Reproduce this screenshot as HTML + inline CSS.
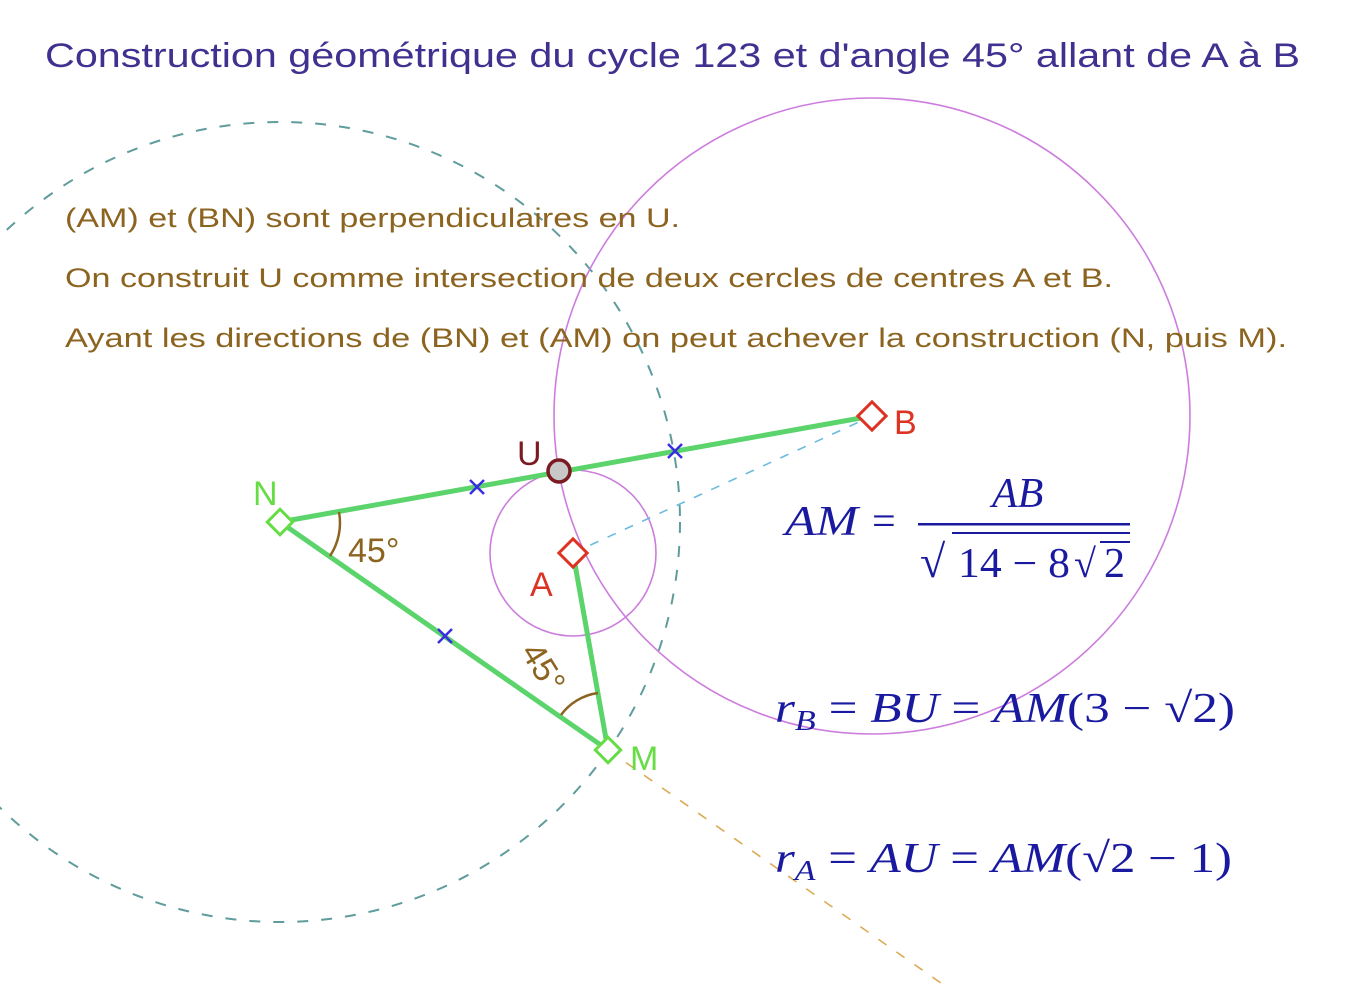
<!DOCTYPE html>
<html><head><meta charset="utf-8"><style>body{margin:0;background:#fff}svg{display:block}</style></head><body>
<svg width="1372" height="988" viewBox="0 0 1372 988" xmlns="http://www.w3.org/2000/svg">
<circle cx="280" cy="522" r="400" fill="none" stroke="#5f9c9c" stroke-width="2" stroke-dasharray="11 13"/>
<circle cx="872" cy="416" r="318" fill="none" stroke="#cc7ddd" stroke-width="1.6"/>
<circle cx="573" cy="553" r="83" fill="none" stroke="#cc7ddd" stroke-width="1.6"/>
<line x1="573" y1="553" x2="872" y2="416" stroke="#6cbbdd" stroke-width="1.6" stroke-dasharray="9 10"/>
<line x1="608" y1="750" x2="948" y2="988" stroke="#ddaa55" stroke-width="1.6" stroke-dasharray="10 12"/>
<g font-family="Liberation Sans, sans-serif">
<text x="45" y="67" font-size="34" fill="#40308f" textLength="1255" lengthAdjust="spacingAndGlyphs">Construction géométrique du cycle 123 et d'angle 45° allant de A à B</text>
<g fill="#8c6420" font-size="27">
<text x="65" y="227" textLength="615" lengthAdjust="spacingAndGlyphs">(AM) et (BN) sont perpendiculaires en U.</text>
<text x="65" y="287" textLength="1048" lengthAdjust="spacingAndGlyphs">On construit U comme intersection de deux cercles de centres A et B.</text>
<text x="65" y="347" textLength="1222" lengthAdjust="spacingAndGlyphs">Ayant les directions de (BN) et (AM) on peut achever la construction (N, puis M).</text>
</g>
</g>
<g stroke="#5cd46c" stroke-width="5" stroke-linecap="round">
<line x1="280" y1="522" x2="872" y2="416"/>
<line x1="280" y1="522" x2="608" y2="750"/>
<line x1="573" y1="553" x2="608" y2="750"/>
</g>
<g stroke="#3a2ee0" stroke-width="2.5">
<path d="M470 480 L484 494 M484 480 L470 494"/>
<path d="M668 444 L682 458 M682 444 L668 458"/>
<path d="M438 629 L452 643 M452 629 L438 643"/>
</g>
<path d="M339 512 A60 60 0 0 1 330 556" fill="none" stroke="#8c6420" stroke-width="2.5"/>
<path d="M561 715 A55 55 0 0 1 598 693" fill="none" stroke="#8c6420" stroke-width="2.5"/>
<g font-family="Liberation Sans, sans-serif" fill="#8c6420" font-size="34">
<text x="348" y="562">45°</text>
<text transform="translate(520,652) rotate(58)">45°</text>
</g>
<g fill="#fff" stroke-width="3">
<rect x="271" y="513" width="18" height="18" transform="rotate(45 280 522)" stroke="#66dd44"/>
<rect x="599" y="741" width="18" height="18" transform="rotate(45 608 750)" stroke="#66dd44"/>
<rect x="563" y="543" width="20" height="20" transform="rotate(45 573 553)" stroke="#dd3322"/>
<rect x="862" y="406" width="20" height="20" transform="rotate(45 872 416)" stroke="#dd3322"/>
</g>
<circle cx="559" cy="471" r="11" fill="#c8c8c8" stroke="#7a1a22" stroke-width="3.5"/>
<g font-family="Liberation Sans, sans-serif" font-size="34">
<text x="517" y="465" fill="#7a1a22">U</text>
<text x="253" y="505" fill="#66dd44">N</text>
<text x="630" y="770" fill="#66dd44">M</text>
<text x="530" y="596" fill="#dd3322">A</text>
<text x="894" y="434" fill="#dd3322">B</text>
</g>
<g font-family="Liberation Serif, serif" fill="#1a1aa0" font-size="42">
<text x="785" y="535" font-style="italic" textLength="73" lengthAdjust="spacingAndGlyphs">AM</text>
<text x="872" y="535">=</text>
<text x="992" y="507" font-style="italic">AB</text>
<rect x="918" y="523" width="212" height="2.5" fill="#1a1aa0"/>
<text x="920" y="577" font-size="46">√</text>
<line x1="952" y1="533" x2="1130" y2="533" stroke="#1a1aa0" stroke-width="2"/>
<text x="958" y="577" textLength="112" lengthAdjust="spacingAndGlyphs">14 − 8</text>
<text x="1074" y="577" font-size="40">√</text>
<line x1="1100" y1="542" x2="1130" y2="542" stroke="#1a1aa0" stroke-width="2"/>
<text x="1104" y="577">2</text>
<text x="775" y="722" textLength="460" lengthAdjust="spacingAndGlyphs"><tspan font-style="italic">r</tspan><tspan font-size="28" font-style="italic" dy="8">B</tspan><tspan dy="-8"> = </tspan><tspan font-style="italic">BU</tspan> = <tspan font-style="italic">AM</tspan>(3 − √2)</text>
<text x="775" y="872" textLength="457" lengthAdjust="spacingAndGlyphs"><tspan font-style="italic">r</tspan><tspan font-size="28" font-style="italic" dy="8">A</tspan><tspan dy="-8"> = </tspan><tspan font-style="italic">AU</tspan> = <tspan font-style="italic">AM</tspan>(√2 − 1)</text>
</g>
</svg>
</body></html>
